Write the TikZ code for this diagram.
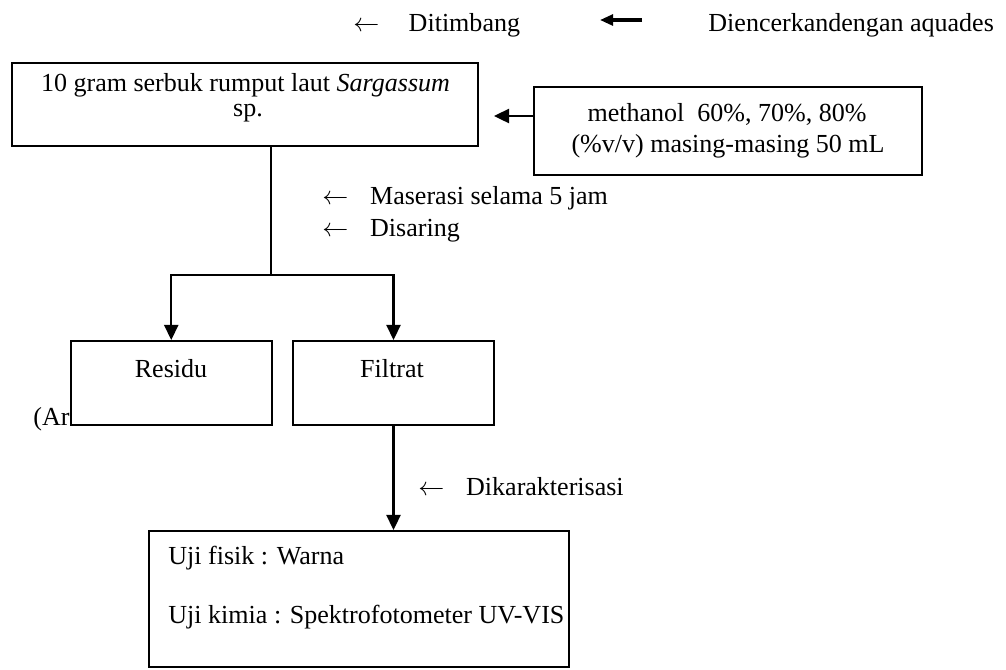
\documentclass[tikz,border=0pt]{standalone}
\usepackage{fontspec}
\setmainfont{Liberation Serif}
\usetikzlibrary{arrows.meta,positioning}

\begin{document}
\begin{tikzpicture}[x=0.0162cm,y=-0.0162cm,>={Triangle[length=7pt,width=6.5pt]},
  every node/.style={font=\fontsize{12}{14.5}\selectfont},
  txt/.style={inner sep=0pt,anchor=base},
  txtl/.style={inner sep=0pt,anchor=base west},
  box/.style={draw,line width=0.9pt,fill=white,inner sep=0pt},
  flow/.style={line width=1pt,->}]
  \useasboundingbox (0,0) rectangle (1006,669);

  % keterangan atas
  \node[txtl] (timbang) at (353,31) {$\leftarrow$\hspace{13.5pt}Ditimbang};
  \node[txtl] (encer) at (708,31) {Diencerkandengan aquades};
  \coordinate (encerA) at (642,20);
  \coordinate (encerB) at (600,20);
  \draw[line width=1.4pt,-{Triangle[length=6pt,width=5pt]}] (encerA) -- (encerB);

  % bahan dan pelarut
  \node[box,minimum width=7.549cm,minimum height=1.345cm] (serbuk) at (245,104.5) {};
  \node[txt] (serbukA) at (245.5,91) {10 gram serbuk rumput laut \textit{Sargassum}};
  \node[txt] (serbukB) at (248,116) {sp.};
  \node[box,minimum width=6.286cm,minimum height=1.426cm] (metanol) at (728,131) {};
  \node[txt] (metanolA) at (727,121) {methanol\enspace 60\%, 70\%, 80\%};
  \node[txt] (metanolB) at (728,152) {(\%v/v) masing-masing 50 mL};
  \coordinate (masuk) at (534,116);
  \draw[flow,shorten >=0.243cm] (masuk) -- (masuk -| serbuk.east);

  % maserasi
  \foreach \lab/\yy [count=\i] in {Maserasi selama 5 jam/204, Disaring/236}
    \node[txtl] (proses\i) at (322,\yy) {$\leftarrow$\hspace{10pt}\lab};

  % hasil saring
  \node[txtl] (sumber) at (33,425) {(Ar};
  \node[box,minimum width=3.264cm,minimum height=1.361cm] (residu) at (171.25,383) {};
  \node[box,minimum width=3.256cm,minimum height=1.361cm] (filtrat) at (393.5,383) {};
  \node[txt] (residuT) at (171,377) {Residu};
  \node[txt] (filtratT) at (392,377) {Filtrat};
  \coordinate (pisah) at (271,275);
  \draw[line width=0.9pt] (pisah |- serbuk.south) -- (pisah);
  \draw[flow] (pisah) -| (residu.north);
  \draw[flow] (pisah) -| (filtrat.north);

  % karakterisasi
  \node[box,minimum width=6.804cm,minimum height=2.203cm] (uji) at (359,599) {};
  \node[txtl] (fisik) at (168,564) {Uji fisik : Warna};
  \node[txtl] (kimia) at (168,623) {Uji kimia : Spektrofotometer UV-VIS};
  \draw[flow] (filtrat.south) -- (filtrat.south |- uji.north);
  \node[txtl] (karakter) at (418,495) {$\leftarrow$\hspace{10pt}Dikarakterisasi};
\end{tikzpicture}
\end{document}
